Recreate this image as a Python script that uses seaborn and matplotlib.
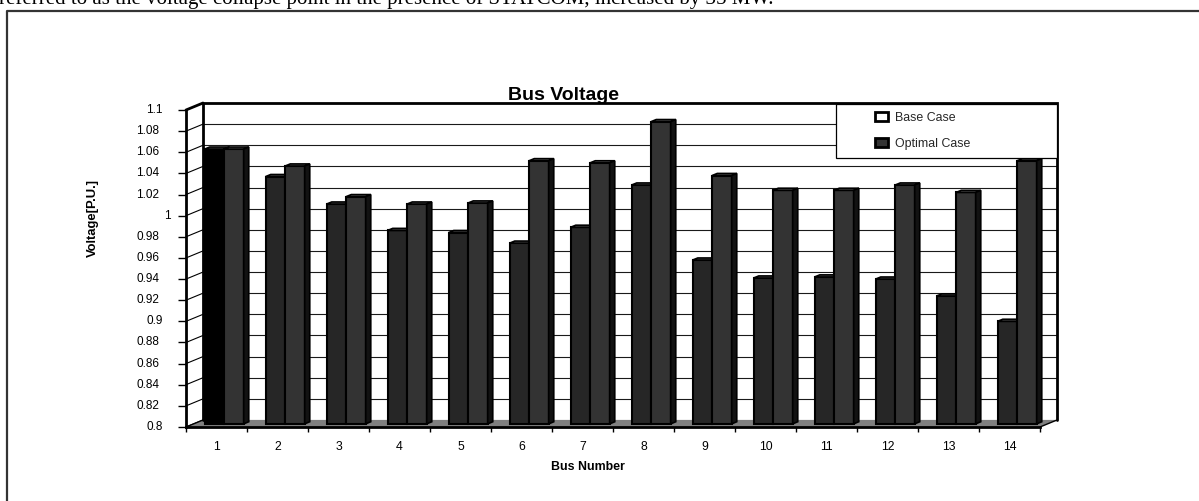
import matplotlib
matplotlib.use("Agg")
import matplotlib.pyplot as plt
import matplotlib.transforms as mtransforms
from matplotlib.patches import Polygon, Rectangle, Patch
from matplotlib.lines import Line2D
import numpy as np
import pandas as pd
import seaborn as sns

# ---- data -------------------------------------------------------------
bus_numbers = [str(i) for i in range(1, 15)]
base_case = [1.060, 1.034, 1.008, 0.983, 0.981, 0.971, 0.986,
             1.026, 0.955, 0.938, 0.939, 0.937, 0.921, 0.897]
optimal_case = [1.060, 1.044, 1.015, 1.008, 1.009, 1.049, 1.047,
                1.086, 1.035, 1.021, 1.021, 1.026, 1.019, 1.049]
case_names = ["Base Case", "Optimal Case"]
voltage_ticks = [0.80, 0.82, 0.84, 0.86, 0.88, 0.90, 0.92, 0.94,
                 0.96, 0.98, 1.00, 1.02, 1.04, 1.06, 1.08, 1.10]
voltage_tick_labels = ["0.8", "0.82", "0.84", "0.86", "0.88", "0.9", "0.92", "0.94",
                       "0.96", "0.98", "1", "1.02", "1.04", "1.06", "1.08", "1.1"]
caption = ("referred to as the voltage collapse point in the presence of STATCOM, "
           "increased by 35 MW.")

# ---- figure -----------------------------------------------------------
W, H = 1199, 501
sns.set_theme(style="white")
plt.rcParams["font.family"] = ["Liberation Sans", "DejaVu Sans"]

fig = plt.figure(figsize=(W / 100, H / 100), dpi=100)
fig.patch.set_facecolor("white")

# front plane of the box (pixels: left, right, top, bottom)
FX0, FX1, FY0, FY1 = 186, 1040, 110, 427
ax = fig.add_axes([FX0 / W, 1 - FY1 / H, (FX1 - FX0) / W, (FY1 - FY0) / H])
DX, DY = 17, 7          # depth of the box in pixels
T_FRONT, T_BACK = 0.45, 0.75   # depth slice occupied by the columns

df = pd.DataFrame({
    "Bus": bus_numbers * 2,
    "Voltage": base_case + optimal_case,
    "Case": [case_names[0]] * len(bus_numbers) + [case_names[1]] * len(bus_numbers),
})

front_colors = ["#262626", "#333333"]
top_colors = ["#5a5a5a", "#5f5f5f"]
side_color = "#121212"

sns.barplot(data=df, x="Bus", y="Voltage", hue="Case", order=bus_numbers,
            hue_order=case_names, palette=front_colors, saturation=1,
            width=0.64, edgecolor="black", linewidth=1.5, legend=False, ax=ax)

ymin, ymax = voltage_ticks[0], voltage_ticks[-1]
xmin, xmax = -0.5, len(bus_numbers) - 0.5
ax.set_xlim(xmin, xmax)
ax.set_ylim(ymin, ymax)
ax.set_autoscale_on(False)
ax.patch.set_visible(False)

ident = mtransforms.IdentityTransform()


def shifted(t):
    return ax.transData + mtransforms.Affine2D().translate(t * DX, t * DY)


def to_px(x, y, t):
    px, py = ax.transData.transform((x, y))
    return (px + t * DX, py + t * DY)


def face(points, **kw):
    poly = Polygon([to_px(*p) for p in points], closed=True,
                   transform=ident, clip_on=False, **kw)
    ax.add_patch(poly)
    return poly


def edge(p0, p1, **kw):
    a, b = to_px(*p0), to_px(*p1)
    ln = Line2D([a[0], b[0]], [a[1], b[1]], transform=ident, clip_on=False, **kw)
    ax.add_line(ln)
    return ln


# back wall with gridlines
ax.add_patch(Rectangle((xmin, ymin), xmax - xmin, ymax - ymin, transform=shifted(1),
                       facecolor="white", edgecolor="none", zorder=0.1, clip_on=False))
for v in voltage_ticks:
    ax.plot([xmin, xmax], [v, v], transform=shifted(1), color="#1a1a1a",
            lw=0.8, clip_on=False, zorder=0.2)

# left side wall with its diagonal gridlines
face([(xmin, ymin, 0), (xmin, ymax, 0), (xmin, ymax, 1), (xmin, ymin, 1)],
     facecolor="white", edgecolor="none", zorder=0.3)
for v in voltage_ticks:
    edge((xmin, v, 0), (xmin, v, 1), color="black", lw=0.8, zorder=0.35)

# floor
face([(xmin, ymin, 0), (xmax, ymin, 0), (xmax, ymin, 1), (xmin, ymin, 1)],
     facecolor="#808080", edgecolor="none", zorder=0.4)
edge((xmax, ymin, 0), (xmax, ymin, 1), color="black", lw=1.0, zorder=0.5)

# wall outlines
ax.plot([xmin, xmin, xmax, xmax], [ymin, ymax, ymax, ymin], transform=shifted(1),
        color="black", lw=2.0, clip_on=False, zorder=0.6, solid_joinstyle="miter")
edge((xmin, ymax, 0), (xmin, ymax, 1), color="black", lw=2.0, zorder=0.6)
edge((xmin, ymin, 0), (xmin, ymin, 1), color="black", lw=1.0, zorder=0.6)

# columns: front face from seaborn, plus top and side faces
for k, cont in enumerate(ax.containers):
    for bar in cont.patches:
        x0, w, top = bar.get_x(), bar.get_width(), bar.get_height()
        bar.set_y(ymin)
        bar.set_height(top - ymin)
        bar.set_transform(shifted(T_FRONT))
        bar.set_clip_on(False)
        bar.set_zorder(3 + k)
        face([(x0, top, T_FRONT), (x0 + w, top, T_FRONT),
              (x0 + w, top, T_BACK), (x0, top, T_BACK)],
             facecolor=top_colors[k], edgecolor="black", lw=1.2, zorder=3 + k)
        face([(x0 + w, ymin, T_FRONT), (x0 + w, top, T_FRONT),
              (x0 + w, top, T_BACK), (x0 + w, ymin, T_BACK)],
             facecolor=side_color, edgecolor="black", lw=1.2, zorder=3 + k)
ax.containers[0].patches[0].set_facecolor("black")

# axes, ticks and labels
for s in ("top", "right"):
    ax.spines[s].set_visible(False)
for s in ("left", "bottom"):
    ax.spines[s].set_color("black")
    ax.spines[s].set_linewidth(2.0)
    ax.spines[s].set_zorder(2.5)

ax.set_yticks(voltage_ticks)
ax.tick_params(axis="y", which="major", direction="out", length=5.8, width=1,
               color="black", left=True, labelleft=False)
for v, s in zip(voltage_ticks, voltage_tick_labels):
    ax.text(0, v, s, transform=ax.get_yaxis_transform()
            + mtransforms.Affine2D().translate(-(12 + 3.7 * len(s)), 0),
            ha="right", va="center", fontsize=8.5, color="black")

ax.set_xticks(range(len(bus_numbers)))
ax.set_xticklabels(bus_numbers)
ax.set_xticks(np.arange(len(bus_numbers) + 1) - 0.5, minor=True)
ax.tick_params(axis="x", which="major", length=0, pad=10, labelsize=8.8,
               labelcolor="black")
ax.tick_params(axis="x", which="minor", direction="out", length=3.6, width=1,
               color="black", bottom=True)

ax.set_xlabel("Bus Number", fontsize=8.9, fontweight="bold", color="black")
ax.xaxis.set_label_coords((588 - FX0) / (FX1 - FX0), (FY1 - 467) / (FY1 - FY0))
ax.xaxis.label.set_va("center")
ax.set_ylabel("Voltage[P.U.]", fontsize=9.4, fontweight="bold", color="black")
ax.yaxis.set_label_coords((93 - FX0) / (FX1 - FX0), (FY1 - 218) / (FY1 - FY0))
ax.yaxis.label.set_va("center")

fig.text(563.5 / W, 1 - 100 / H, "Bus Voltage", ha="center", va="baseline",
         fontsize=14, fontweight="bold", color="black")

# legend
fig.add_artist(Rectangle((836 / W, 1 - 158 / H), (1057 - 836) / W, (158 - 104) / H,
                         transform=fig.transFigure, facecolor="white",
                         edgecolor="black", lw=0.9, zorder=15))
handles = [Patch(facecolor="white", edgecolor="black", linewidth=2),
           Patch(facecolor="#333333", edgecolor="black", linewidth=2)]
leg = fig.legend(handles, case_names, loc="upper left",
                 bbox_to_anchor=(875 / W, 1 - 112 / H), frameon=False,
                 fontsize=8.9, handlelength=1.05, handleheight=0.72,
                 handletextpad=0.6, labelspacing=1.1, borderpad=0,
                 borderaxespad=0)
leg.set_zorder(20)

# page frame and text line above it
fig.add_artist(Line2D([7.3 / W, 7.3 / W, 1.0], [0, 1 - 10.7 / H, 1 - 10.7 / H],
                      transform=fig.transFigure, color="#333333", lw=1.6))
fig.text(-1 / W, 1 - 4 / H, caption, family=["Liberation Serif"], fontsize=15,
         va="baseline", ha="left", color="black")

fig.savefig("out.png", dpi=100)
